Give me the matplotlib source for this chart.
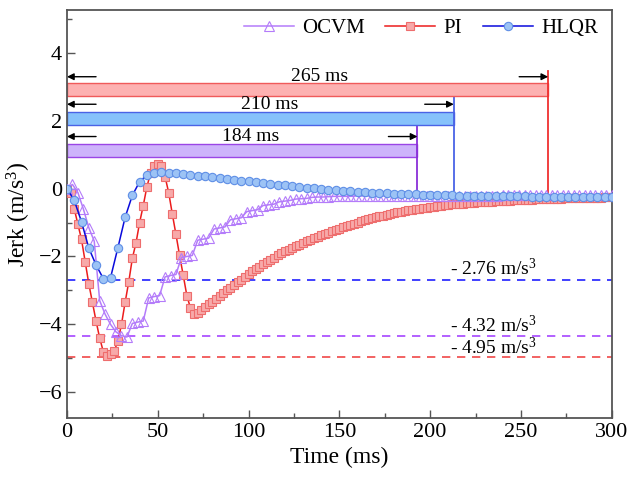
import numpy as np
import matplotlib
matplotlib.use('Agg')
import matplotlib.pyplot as plt

plt.rcParams['font.family'] = ['Liberation Serif', 'DejaVu Serif']
plt.rcParams['mathtext.fontset'] = 'custom'
plt.rcParams['mathtext.rm'] = 'Liberation Serif'
plt.rcParams['mathtext.it'] = 'Liberation Serif:italic'

# sample steps (ms) of each series
dt_pi = 2
dt_ocvm = 3
dt_hlqr = 4

# PI jerk (m/s^3), every 2 ms from 0 to 300
jerk_pi = [
    0.0, -0.12, -0.6, -1.05, -1.5, -2.15, -2.8, -3.35, -3.9, -4.4,
    -4.8, -4.92, -4.88, -4.78, -4.5, -4.0, -3.35, -2.75, -2.05, -1.6,
    -1.0, -0.5, 0.05, 0.45, 0.66, 0.73, 0.65, 0.35, -0.12, -0.75,
    -1.35, -1.97, -2.55, -3.15, -3.52, -3.68, -3.65, -3.58, -3.5, -3.41,
    -3.33, -3.25, -3.17, -3.08, -3.0, -2.92, -2.84, -2.76, -2.68, -2.6,
    -2.52, -2.44, -2.37, -2.3, -2.22, -2.15, -2.09, -2.03, -1.97, -1.91,
    -1.85, -1.8, -1.75, -1.7, -1.65, -1.6, -1.55, -1.51, -1.47, -1.42,
    -1.38, -1.34, -1.3, -1.26, -1.22, -1.18, -1.14, -1.11, -1.07, -1.04,
    -1.0, -0.97, -0.94, -0.91, -0.88, -0.85, -0.82, -0.8, -0.77, -0.75,
    -0.72, -0.7, -0.68, -0.66, -0.64, -0.62, -0.6, -0.59, -0.57, -0.56,
    -0.54, -0.53, -0.52, -0.5, -0.49, -0.48, -0.47, -0.46, -0.45, -0.45,
    -0.44, -0.43, -0.42, -0.41, -0.41, -0.4, -0.39, -0.39, -0.38, -0.37,
    -0.37, -0.36, -0.36, -0.35, -0.35, -0.34, -0.34, -0.33, -0.33, -0.32,
    -0.32, -0.31, -0.31, -0.31, -0.3, -0.3, -0.3, -0.29, -0.29, -0.29,
    -0.28, -0.28, -0.28, -0.28, -0.27, -0.27, -0.27, -0.27, -0.26, -0.26,
    -0.26,
]

# OCVM jerk, every 3 ms
jerk_ocvm = [
    0.0, 0.12, -0.12, -0.6, -1.15, -1.55, -3.3, -3.7, -4.0, -4.22,
    -4.33, -4.37, -3.97, -3.93, -3.9, -3.22, -3.18, -3.15, -2.6, -2.56,
    -2.53, -2.03, -2.0, -1.97, -1.52, -1.49, -1.46, -1.19, -1.16, -1.13,
    -0.92, -0.89, -0.86, -0.68, -0.65, -0.62, -0.5, -0.48, -0.46, -0.39,
    -0.37, -0.35, -0.31, -0.3, -0.29, -0.26, -0.25, -0.25, -0.24, -0.23,
    -0.23, -0.23, -0.23, -0.22, -0.22, -0.22, -0.22, -0.22, -0.22, -0.22,
    -0.22, -0.22, -0.22, -0.22, -0.21, -0.21, -0.21, -0.21, -0.21, -0.21,
    -0.21, -0.21, -0.21, -0.21, -0.21, -0.21, -0.21, -0.21, -0.21, -0.21,
    -0.2, -0.2, -0.2, -0.2, -0.2, -0.2, -0.2, -0.2, -0.2, -0.2,
    -0.2, -0.2, -0.2, -0.2, -0.2, -0.2, -0.2, -0.2, -0.2, -0.2,
    -0.2,
]

# HLQR jerk, every 4 ms
jerk_hlqr = [
    0.0, -0.35, -0.98, -1.75, -2.25, -2.65, -2.62, -1.75, -0.85, -0.2,
    0.2, 0.4, 0.47, 0.48, 0.47, 0.45, 0.43, 0.41, 0.38, 0.36,
    0.33, 0.31, 0.28, 0.26, 0.23, 0.21, 0.18, 0.16, 0.13, 0.11,
    0.09, 0.07, 0.05, 0.03, 0.01, -0.01, -0.03, -0.05, -0.07, -0.08,
    -0.1, -0.11, -0.12, -0.13, -0.14, -0.15, -0.16, -0.17, -0.17, -0.18,
    -0.19, -0.19, -0.2, -0.2, -0.21, -0.21, -0.21, -0.22, -0.22, -0.22,
    -0.23, -0.23, -0.23, -0.23, -0.24, -0.24, -0.24, -0.24, -0.24, -0.25,
    -0.25, -0.25, -0.25, -0.25, -0.25, -0.25,
]

# settling annotations (bottom to top: OCVM, HLQR, PI)
settle_end = [193, 213, 265]
settle_text = ['184 ms', '210 ms', '265 ms']
bar_center = [1.13, 2.05, 2.92]
arrow_y = [1.53, 2.48, 3.29]
vline_top = [1.85, 2.7, 3.45]
bar_face = ['#cdb3fb', '#86c2fb', '#fdb1b1']
bar_edge = ['#9a45e6', '#4a63e6', '#f05a5a']
vline_col = ['#8a2fd8', '#4a63e6', '#f03030']

# peak levels
peak_level = [-2.68, -4.35, -4.95]
peak_text = ['- 2.76 m/s$^3$', '- 4.32 m/s$^3$', '- 4.95 m/s$^3$']
peak_col = ['#2020ff', '#a645ff', '#f04848']
peak_text_y = [-2.35, -4.03, -4.68]

t_pi = np.arange(len(jerk_pi)) * dt_pi
t_ocvm = np.arange(len(jerk_ocvm)) * dt_ocvm
t_hlqr = np.arange(len(jerk_hlqr)) * dt_hlqr

fig = plt.figure(figsize=(6.32, 4.82), dpi=100)
ax = fig.add_axes([0.106, 0.133, 0.862, 0.846])

# bars, arrows and end lines
for i in range(3):
    ax.barh(bar_center[i], settle_end[i], left=0, height=0.38,
            color=bar_face[i], edgecolor=bar_edge[i], linewidth=1.0, zorder=2)
    ax.plot([settle_end[i], settle_end[i]], [vline_top[i], -0.2],
            color=vline_col[i], lw=1.3, zorder=2)
    ax.annotate('', xy=(0, arrow_y[i]), xytext=(16, arrow_y[i]),
                arrowprops=dict(arrowstyle='-|>', color='k', lw=1.0,
                                mutation_scale=10, shrinkA=0, shrinkB=0))
    ax.annotate('', xy=(settle_end[i], arrow_y[i]),
                xytext=(settle_end[i] - 16, arrow_y[i]),
                arrowprops=dict(arrowstyle='-|>', color='k', lw=1.0,
                                mutation_scale=10, shrinkA=0, shrinkB=0))
    ax.text(settle_end[i] * 0.525, arrow_y[i], settle_text[i],
            ha='center', va='center', fontsize=14)

# peak lines
for i in range(3):
    ax.axhline(peak_level[i], color=peak_col[i], lw=1.2, ls=(0, (5, 4)), zorder=1)
    ax.text(235, peak_text_y[i], peak_text[i], ha='center', va='center', fontsize=14)

l_pi, = ax.plot(t_pi, jerk_pi, color='#ec1c1c', lw=1.1, marker='s', ms=5.5,
                mfc='#f7a9a9', mec='#ee6d6d', mew=0.8, zorder=3)
l_ocvm, = ax.plot(t_ocvm, jerk_ocvm, color='#b47cfa', lw=1.1, marker='^', ms=6.5,
                  mfc='none', mec='#b47cfa', mew=0.8, zorder=4)
l_hlqr, = ax.plot(t_hlqr, jerk_hlqr, color='#0a0adc', lw=1.1, marker='o', ms=6,
                  mfc='#9cc3f5', mec='#5f8fe6', mew=0.8, zorder=5)

ax.legend([l_ocvm, l_pi, l_hlqr], ['OCVM', 'PI', 'HLQR'], ncol=3, frameon=False,
          loc='upper right', bbox_to_anchor=(1.01, 1.025), fontsize=15,
          handlelength=2.4, handletextpad=0.4, columnspacing=1.0)

ax.set_xlim(0, 300)
ax.set_ylim(-6.75, 5.25)
ax.set_xticks(np.arange(0, 301, 50))
ax.set_xticks(np.arange(25, 300, 50), minor=True)
ax.set_yticks([-6, -4, -2, 0, 2, 4])
ax.set_yticks(np.arange(-5, 6, 2), minor=True)
ax.tick_params(direction='in', which='major', length=6, width=1, labelsize=16, color='#555555')
ax.tick_params(direction='in', which='minor', length=3.5, width=1, color='#555555')
for s in ax.spines.values():
    s.set_color('#555555')
    s.set_linewidth(1.3)

ax.set_xlabel('Time (ms)', fontsize=17)
ax.set_ylabel('Jerk (m/s$^3$)', fontsize=17)

fig.savefig('out.png', dpi=100)
